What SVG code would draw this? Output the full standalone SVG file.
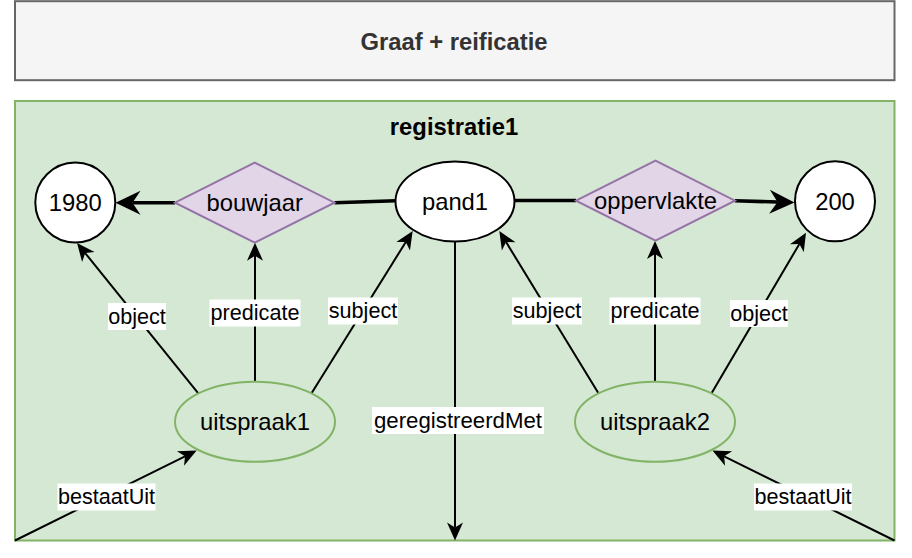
<svg xmlns="http://www.w3.org/2000/svg" width="912" height="558" viewBox="0 0 912 558">
<style>
text{font-family:"Liberation Sans",Arial,Helvetica,sans-serif;text-anchor:middle;fill:#000}
.node{font-size:23.8px}
.title{font-size:23.8px;font-weight:bold}
.lbl{font-size:21.6px}
.lblbg{fill:#fff}
.thin{stroke:#000;stroke-width:2;fill:none}
.thick{stroke:#000;stroke-width:3.6;fill:none}
.white{fill:#fff;stroke:#000;stroke-width:2}
.prop{fill:#e1d5e7;stroke:#9673a6;stroke-width:2}
.stmt{fill:#d5e8d4;stroke:#82b366;stroke-width:2}
</style>
<defs>
<marker id="arr" viewBox="-6 -9 20 18" markerWidth="20" markerHeight="18" refX="0" refY="0" orient="auto" markerUnits="userSpaceOnUse">
<path d="M13,0 L-5,-8 L0,0 L-5,8 Z" fill="#000"/>
</marker>
<marker id="arrThick" viewBox="-9 -13 27 26" markerWidth="27" markerHeight="26" refX="0" refY="0" orient="auto" markerUnits="userSpaceOnUse">
<path d="M17,0 L-8,-12 L0,0 L-8,12 Z" fill="#000"/>
</marker>
</defs>

<g id="header">
<rect x="15" y="1.2" width="879.5" height="79" fill="#f5f5f5" stroke="#666666" stroke-width="2"/>
<text class="title" x="454" y="50.2" style="fill:#333333">Graaf + reificatie</text>
</g>

<g id="registratie1">
<rect x="15" y="101" width="879.5" height="439.5" fill="#d5e8d4" stroke="#82b366" stroke-width="2"/>
<text class="title" x="454" y="135">registratie1</text>
</g>

<g id="connectors">
<line class="thick" x1="175" y1="202.7" x2="132.5" y2="202.7" marker-end="url(#arrThick)"/>
<line class="thick" x1="334.5" y1="202.7" x2="396" y2="200.7"/>
<line class="thick" x1="515" y1="200.5" x2="576" y2="200.5"/>
<line class="thick" x1="735" y1="200.7" x2="777.5" y2="202" marker-end="url(#arrThick)"/>

<line class="thin" x1="198.3" y1="393.3" x2="85.2" y2="253.1" marker-end="url(#arr)"/>
<line class="thin" x1="255" y1="381.7" x2="255" y2="255.7" marker-end="url(#arr)"/>
<line class="thin" x1="311.7" y1="393" x2="405.8" y2="242" marker-end="url(#arr)"/>
<line class="thin" x1="598.3" y1="393" x2="506.1" y2="242.1" marker-end="url(#arr)"/>
<line class="thin" x1="655" y1="381.7" x2="655" y2="254" marker-end="url(#arr)"/>
<line class="thin" x1="711.7" y1="393" x2="799.4" y2="243.9" marker-end="url(#arr)"/>
<line class="thin" x1="455" y1="241.5" x2="455" y2="527.5" marker-end="url(#arr)"/>
<line class="thin" x1="15" y1="540.5" x2="185" y2="456.3" marker-end="url(#arr)"/>
<line class="thin" x1="894.5" y1="540.5" x2="724.1" y2="456.3" marker-end="url(#arr)"/>

<rect class="lblbg" x="108" y="303" width="58" height="27"/>
<text class="lbl" x="137" y="323.9">object</text>
<rect class="lblbg" x="209.5" y="299.5" width="91" height="27"/>
<text class="lbl" x="255" y="320.4">predicate</text>
<rect class="lblbg" x="328" y="297.5" width="70" height="27"/>
<text class="lbl" x="363" y="318.4">subject</text>
<rect class="lblbg" x="512" y="297.5" width="70" height="27"/>
<text class="lbl" x="547" y="318.4">subject</text>
<rect class="lblbg" x="609.5" y="297.5" width="91" height="27"/>
<text class="lbl" x="655" y="318.4">predicate</text>
<rect class="lblbg" x="730" y="300" width="58" height="27"/>
<text class="lbl" x="759" y="320.9">object</text>
<rect class="lblbg" x="372" y="407" width="172" height="27"/>
<text class="lbl" x="458" y="427.7" textLength="168" lengthAdjust="spacingAndGlyphs">geregistreerdMet</text>
<rect class="lblbg" x="57.5" y="483.5" width="98" height="27"/>
<text class="lbl" x="106.5" y="504.4">bestaatUit</text>
<rect class="lblbg" x="754" y="483.5" width="98" height="27"/>
<text class="lbl" x="803" y="504.4">bestaatUit</text>
</g>

<g id="n1980">
<circle class="white" cx="75.3" cy="202.5" r="40"/>
<text class="node" x="75.3" y="210.8">1980</text>
</g>
<g id="bouwjaar">
<polygon class="prop" points="175,202.7 254.7,162.7 334.5,202.7 254.7,242.7"/>
<text class="node" x="254.7" y="211">bouwjaar</text>
</g>
<g id="pand1">
<ellipse class="white" cx="455" cy="201.5" rx="59.5" ry="40"/>
<text class="node" x="455" y="209.8">pand1</text>
</g>
<g id="oppervlakte">
<polygon class="prop" points="576,200.7 655.5,160.7 735,200.7 655.5,240.7"/>
<text class="node" x="655.5" y="209">oppervlakte</text>
</g>
<g id="n200">
<circle class="white" cx="835" cy="201.3" r="40"/>
<text class="node" x="835" y="209.6">200</text>
</g>
<g id="uitspraak1">
<ellipse class="stmt" cx="255" cy="421.7" rx="80" ry="40"/>
<text class="node" x="255" y="430">uitspraak1</text>
</g>
<g id="uitspraak2">
<ellipse class="stmt" cx="655" cy="421.7" rx="80" ry="40"/>
<text class="node" x="655" y="430">uitspraak2</text>
</g>
</svg>
